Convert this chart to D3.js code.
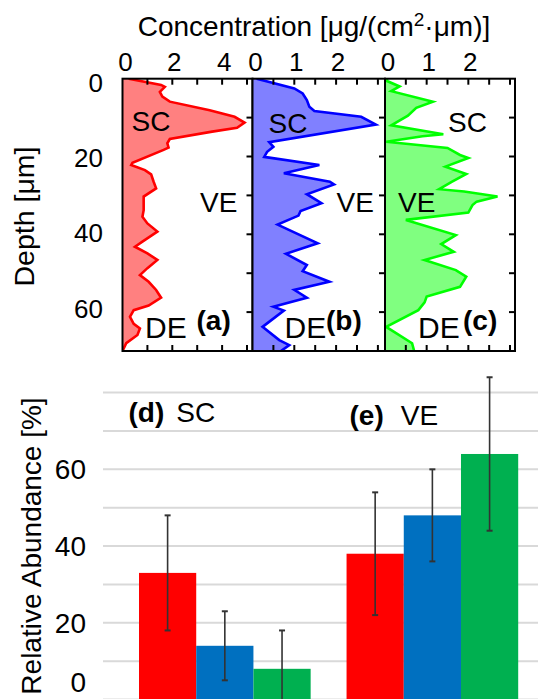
<!DOCTYPE html>
<html>
<head>
<meta charset="utf-8">
<script src="https://cdn.jsdelivr.net/npm/d3@7"></script>
<style>
  body { margin: 0; background: #fff; }
  svg { display: block; font-family: "Liberation Sans", Arial, sans-serif; }
</style>
</head>
<body>
<svg id="chart" width="538" height="699"></svg>
<script>
// ---- depth profiles: depth [µm] and concentration [µg/(cm²·µm)] ----
const depthA = [0, 1.6, 2.1, 3.4, 4.6, 5.9, 8.1, 9.8, 11.3, 12.6, 13.6, 15.5, 16.6, 17.7, 18.3, 21.6, 22.2, 23.5, 24.6, 26.5, 28.2, 30.3, 31.6, 33.8, 35.5, 37.2, 39.3, 41.9, 43.2, 44.9, 46.6, 48.7, 50.5, 52.2, 54.3, 56.3, 58.3, 59.5, 61.2, 63.0, 64.2, 65.9, 68.0, 70];
const concA  = [0.25, 1.55, 1.7, 1.5, 1.6, 1.9, 3.5, 4.5, 4.9, 4.6, 3.6, 1.9, 1.8, 1.85, 1.65, 0.4, 0.35, 0.9, 1.15, 1.25, 1.35, 0.85, 0.85, 0.85, 0.8, 1.0, 1.4, 0.8, 0.5, 1.0, 1.4, 1.0, 0.7, 1.05, 1.35, 1.55, 1.05, 0.45, 0.3, 0.45, 0.7, 0.6, 0.15, 0];

const depthB = [0, 2.5, 3.8, 5.5, 7.2, 8.3, 9.8, 11.8, 16.3, 17.5, 18.8, 20.1, 22.2, 24.3, 26.5, 27.2, 29.7, 32.0, 34.0, 35.2, 37.5, 42.3, 45.0, 47.9, 49.5, 52.2, 54.3, 56.3, 58.6, 59.6, 63.8, 67.2, 68.5, 70];
const concB  = [0.1, 1.0, 1.2, 1.3, 1.36, 1.48, 2.6, 2.95, 0.4, 0.5, 0.35, 0.28, 1.6, 0.75, 1.85, 1.95, 1.3, 1.65, 1.15, 1.1, 0.6, 1.56, 0.8, 1.3, 1.2, 1.84, 1.0, 1.3, 0.5, 0.75, 0.24, 0.64, 0.88, 0.68];

const depthC = [0, 0.6, 2.0, 3.2, 5.9, 7.5, 9.5, 12.0, 14.3, 14.8, 16.2, 17.8, 19.6, 20.4, 22.6, 24.5, 26.5, 28.4, 29.0, 30.3, 31.6, 32.5, 34.4, 36.3, 40.2, 42.5, 44.5, 46.6, 49.2, 50.9, 53.5, 56.0, 57.5, 59.5, 63.8, 68.0, 70];
const concC  = [0.05, 0.05, 0.35, 0.15, 1.15, 0.75, 0.55, 0.15, 1.4, 0.9, 0.03, 1.5, 1.8, 2.0, 1.45, 1.95, 1.6, 1.3, 1.9, 2.7, 2.2, 2.1, 2.0, 0.5, 1.7, 1.35, 1.65, 0.95, 1.7, 1.95, 1.8, 1.0, 0.95, 0.8, 0.03, 0.65, 0.7];

const depthTicks = [0, 20, 40, 60];
const concTicksA = [0, 2, 4];
const concTicksB = [0, 1, 2];
const concTicksC = [0, 1, 2];

// ---- relative abundance [%] per skin layer, with standard deviations ----
const layers = ["SC", "VE"];
const abundanceSC = [33, 14, 8];
const errorSC     = [15, 9, 10];
const abundanceVE = [38, 48, 64];
const errorVE     = [16, 12, 20];
const abundanceTicks = [0, 20, 40, 60];

const svg = d3.select("#chart");

// ================= depth profile panels =================
const depthMax = 70;
const yDepth = d3.scaleLinear().domain([0, depthMax]).range([78.7, 351]);
const yDepthLabel = d3.scaleLinear().domain([0, 60]).range([82.5, 308.5]);

const panels = [
  { id: "a", depth: depthA, conc: concA, max: 5.22, ticks: concTicksA, minorStep: 1,
    left: 122.5, right: 252.5, line: "#FF0000", fill: "#FF8080",
    sc: [131.5, 131], ve: [200, 212], de: [145, 338], tag: [196.5, 330] },
  { id: "b", depth: depthB, conc: concB, max: 3.17, ticks: concTicksB, minorStep: 0.5,
    left: 252.5, right: 385, line: "#0000FF", fill: "#8080FF",
    sc: [268.5, 133], ve: [336.5, 211.5], de: [284.5, 338], tag: [326, 330] },
  { id: "c", depth: depthC, conc: concC, max: 3.12, ticks: concTicksC, minorStep: 0.5,
    left: 385, right: 515, line: "#00FF00", fill: "#80FF80",
    sc: [448, 131.5], ve: [398, 212], de: [418, 338], tag: [463, 330] }
];

const defs = svg.append("defs");

panels.forEach(p => {
  const x = d3.scaleLinear().domain([0, p.max]).range([p.left, p.right]);
  const pts = p.depth.map((d, i) => ({ d, v: p.conc[i] }));
  const g = svg.append("g").attr("class", "panel-" + p.id);

  defs.append("clipPath").attr("id", "clip-" + p.id)
    .append("rect")
    .attr("x", p.left).attr("y", yDepth(0))
    .attr("width", p.right - p.left).attr("height", yDepth(depthMax) - yDepth(0));

  const body = g.append("g").attr("clip-path", `url(#clip-${p.id})`);
  body.append("path")
    .datum(pts)
    .attr("fill", p.fill)
    .attr("d", d3.area().y(d => yDepth(d.d)).x0(x(0)).x1(d => x(d.v)));
  body.append("path")
    .datum(pts)
    .attr("fill", "none")
    .attr("stroke", p.line)
    .attr("stroke-width", 2.6)
    .attr("stroke-linejoin", "miter")
    .attr("d", d3.line().y(d => yDepth(d.d)).x(d => x(d.v)));

  // inward ticks: top & bottom (concentration), right side (depth)
  const minor = d3.range(p.minorStep, p.max - 1e-6, p.minorStep);
  const tickLen = 6;
  g.selectAll(".tt").data(minor).join("line")
    .attr("x1", d => x(d)).attr("x2", d => x(d))
    .attr("y1", yDepth(0)).attr("y2", yDepth(0) + tickLen)
    .attr("stroke", "#000").attr("stroke-width", 2);
  g.selectAll(".tb").data(minor).join("line")
    .attr("x1", d => x(d)).attr("x2", d => x(d))
    .attr("y1", yDepth(depthMax)).attr("y2", yDepth(depthMax) - tickLen)
    .attr("stroke", "#000").attr("stroke-width", 2);
  g.selectAll(".tr").data(d3.range(10, depthMax, 10)).join("line")
    .attr("x1", p.right).attr("x2", p.right - tickLen)
    .attr("y1", d => yDepth(d)).attr("y2", d => yDepth(d))
    .attr("stroke", "#000").attr("stroke-width", 2);

  g.append("rect")
    .attr("x", p.left).attr("y", yDepth(0))
    .attr("width", p.right - p.left).attr("height", yDepth(depthMax) - yDepth(0))
    .attr("fill", "none").attr("stroke", "#000").attr("stroke-width", 2);

  // concentration tick labels
  g.selectAll(".cl").data(p.ticks).join("text")
    .attr("x", d => x(d) + (d === 0 ? 3 : 2))
    .attr("y", 71)
    .attr("text-anchor", "middle")
    .attr("font-size", 26)
    .attr("fill", "#000")
    .text(d => d);

  // layer labels
  const lab = (pos, txt, size, weight) => g.append("text")
    .attr("x", pos[0]).attr("y", pos[1])
    .attr("font-size", size).attr("font-weight", weight || "normal")
    .attr("fill", "#000").text(txt);
  lab(p.sc, "SC", 28);
  lab(p.ve, "VE", 28);
  lab(p.de, "DE", 30);
  lab(p.tag, `(${p.id})`, 28, "bold");
});

// depth axis labels
svg.append("g").selectAll("text").data(depthTicks).join("text")
  .attr("x", 103)
  .attr("y", d => yDepthLabel(d))
  .attr("dy", "0.35em")
  .attr("text-anchor", "end")
  .attr("font-size", 26)
  .text(d => d);

svg.append("text")
  .attr("transform", "translate(34,216.5) rotate(-90)")
  .attr("text-anchor", "middle")
  .attr("font-size", 28.5)
  .text("Depth [μm]");

// concentration title with superscript
const title = svg.append("text")
  .attr("x", 314).attr("y", 36)
  .attr("text-anchor", "middle")
  .attr("font-size", 28);
title.append("tspan").text("Concentration [μg/(cm");
title.append("tspan").attr("font-size", 19).attr("dy", -10).text("2");
title.append("tspan").attr("dy", 10).text("·μm)]");

// ================= relative abundance bar charts =================
const seriesColors = ["#FF0000", "#0070C0", "#00B050"];
const yAb = d3.scaleLinear().domain([0, 80]).range([699.5, 392.6]);
const groupX = d3.scaleBand().domain(layers).range([139, 518.2]).paddingInner(0.173);
const seriesX = d3.scaleBand().domain(d3.range(3)).range([0, groupX.bandwidth()]);

const plotAreas = [[103, 341], [341, 538]];
const grid = svg.append("g");
plotAreas.forEach(([x0, x1]) => {
  grid.selectAll(null).data(d3.range(0, 81, 10)).join("line")
    .attr("x1", x0).attr("x2", x1)
    .attr("y1", d => yAb(d)).attr("y2", d => yAb(d))
    .attr("stroke", "#D9D9D9").attr("stroke-width", 2);
});

const groups = [
  { layer: "SC", values: abundanceSC, errors: errorSC },
  { layer: "VE", values: abundanceVE, errors: errorVE }
];

groups.forEach(gr => {
  const gx = groupX(gr.layer);
  const g = svg.append("g");
  const rows = gr.values.map((v, i) => ({ i, v, e: gr.errors[i] }));
  g.selectAll("rect").data(rows).join("rect")
    .attr("x", d => gx + seriesX(d.i))
    .attr("width", seriesX.bandwidth())
    .attr("y", d => yAb(d.v))
    .attr("height", d => yAb(0) - yAb(d.v))
    .attr("fill", d => seriesColors[d.i]);

  const eb = g.selectAll(".err").data(rows).join("g")
    .attr("transform", d => `translate(${gx + seriesX(d.i) + seriesX.bandwidth() / 2},0)`);
  eb.append("line")
    .attr("y1", d => yAb(Math.max(0, d.v - d.e)))
    .attr("y2", d => yAb(d.v + d.e))
    .attr("stroke", "#333").attr("stroke-width", 1.6);
  eb.append("line")
    .attr("x1", -3).attr("x2", 3)
    .attr("y1", d => yAb(d.v + d.e)).attr("y2", d => yAb(d.v + d.e))
    .attr("stroke", "#333").attr("stroke-width", 2);
  eb.filter(d => d.v - d.e > 0).append("line")
    .attr("x1", -3).attr("x2", 3)
    .attr("y1", d => yAb(d.v - d.e)).attr("y2", d => yAb(d.v - d.e))
    .attr("stroke", "#333").attr("stroke-width", 2);
});

// panel captions
const cap = (x, y, tag, name, gap) => {
  const t = svg.append("text").attr("x", x).attr("y", y).attr("font-size", 28);
  t.append("tspan").attr("font-weight", "bold").text(tag);
  t.append("tspan").attr("dx", gap).text(name);
};
cap(128.5, 421.5, "(d)", "SC", 12);
cap(349.5, 424.5, "(e)", "VE", 17);

// abundance axis labels (the bottom one is lifted to stay inside the frame)
svg.append("g").selectAll("text").data(abundanceTicks).join("text")
  .attr("x", 86)
  .attr("y", d => Math.min(yAb(d), 682))
  .attr("dy", "0.36em")
  .attr("text-anchor", "end")
  .attr("font-size", 28)
  .text(d => d);

svg.append("text")
  .attr("transform", "translate(41,546) rotate(-90)")
  .attr("text-anchor", "middle")
  .attr("font-size", 28)
  .text("Relative Abundance [%]");
</script>
</body>
</html>
